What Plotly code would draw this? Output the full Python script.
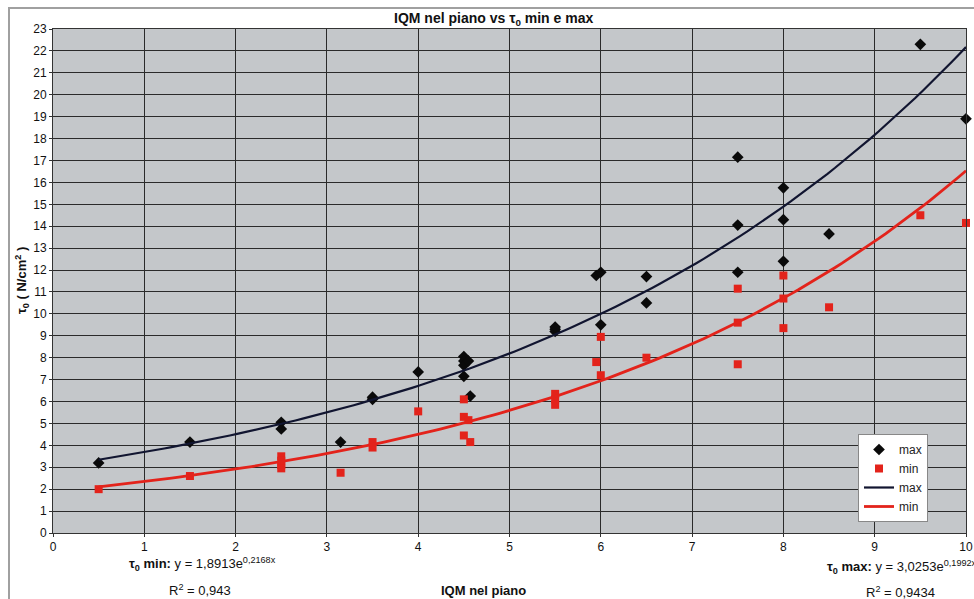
import numpy as np
import plotly.graph_objects as go

# ---- data ----
max_x = [0.5, 1.5, 2.5, 2.5, 3.15, 3.5, 3.5, 4.0, 4.5, 4.5, 4.5, 4.55, 4.5, 4.57,
         5.5, 5.5, 5.5, 5.95, 6.0, 6.0, 6.5, 6.5, 7.5, 7.5, 7.5, 8.0, 8.0, 8.0, 8.5, 9.5, 10.0]
max_y = [3.2, 4.15, 4.75, 5.05, 4.15, 6.1, 6.2, 7.35, 8.05, 7.85, 7.65, 7.85, 7.15, 6.25,
         9.2, 9.3, 9.4, 11.75, 11.9, 9.5, 11.7, 10.5, 17.15, 14.05, 11.9, 15.75, 14.3, 12.4, 13.65, 22.3, 18.9]

min_x = [0.5, 1.5, 2.5, 2.5, 2.5, 2.5, 3.15, 3.5, 3.5, 4.0, 4.5, 4.5, 4.55, 4.5, 4.57,
         5.5, 5.5, 5.5, 5.95, 6.0, 6.0, 6.5, 7.5, 7.5, 7.5, 8.0, 8.0, 8.0, 8.5, 9.5, 10.0]
min_y = [2.0, 2.6, 3.5, 3.3, 3.1, 2.95, 2.75, 4.15, 3.9, 5.55, 6.1, 5.3, 5.15, 4.45, 4.15,
         6.35, 6.1, 5.85, 7.8, 8.95, 7.2, 8.0, 11.15, 9.6, 7.7, 11.75, 10.7, 9.35, 10.3, 14.5, 14.15]

# exponential trendlines as printed on the chart
min_a, min_b = 1.8913, 0.2168
max_a, max_b = 3.0253, 0.1992
trend_x = np.linspace(0.5, 10, 120)

x_ticks = list(range(0, 11))
y_ticks = list(range(0, 24))

FONT = "Liberation Sans, Arial, sans-serif"

fig = go.Figure()
fig.add_trace(go.Scatter(x=max_x, y=max_y, mode="markers", name="max", cliponaxis=False,
                         marker=dict(symbol="diamond", size=9, color="#0a0a0a")))
fig.add_trace(go.Scatter(x=min_x, y=min_y, mode="markers", name="min", cliponaxis=False,
                         marker=dict(symbol="square", size=8, color="#e3231b")))
fig.add_trace(go.Scatter(x=trend_x, y=max_a * np.exp(max_b * trend_x), mode="lines", name="max",
                         line=dict(color="#111530", width=2.2)))
fig.add_trace(go.Scatter(x=trend_x, y=min_a * np.exp(min_b * trend_x), mode="lines", name="min",
                         line=dict(color="#e3231b", width=2.8)))

# body margin is removed in the page (post_script), so figure px == page px
W, H = 974, 599
L, R, T, B = 53, 966, 29, 533


def px(xp):  # page pixel x -> paper
    return (xp - L) / (R - L)


def py(yp):  # page pixel y -> paper
    return (B - yp) / (B - T)


annotations = [
    dict(x=px(493), y=py(19), text="<b>IQM nel piano vs τ<sub>0</sub> min e max</b>",
         font=dict(size=14, color="#111")),
    dict(x=px(483), y=py(590), text="<b>IQM nel piano</b>", font=dict(size=13, color="#111")),
    dict(x=px(22), y=py(281), text="<b>τ<sub>0</sub> ( N/cm<sup>2</sup> )</b>", textangle=-90,
         font=dict(size=13, color="#111")),
    dict(x=px(127), y=py(564), xanchor="left",
         text="<b>τ<sub>0</sub> min:</b> y = 1,8913e<sup>0,2168x</sup>", font=dict(size=13, color="#111")),
    dict(x=px(200), y=py(590), text="R<sup>2</sup> = 0,943", font=dict(size=13, color="#111")),
    dict(x=px(825), y=py(567), xanchor="left",
         text="<b>τ<sub>0</sub> max:</b> y = 3,0253e<sup>0,1992x</sup>", font=dict(size=13, color="#111")),
    dict(x=px(900), y=py(592), text="R<sup>2</sup> = 0,9434", font=dict(size=13, color="#111")),
]
for a in annotations:
    a.update(xref="paper", yref="paper", showarrow=False)
    a.setdefault("xanchor", "center")
    a["yanchor"] = "middle"

shapes = [
    dict(type="line", xref="paper", yref="paper", x0=px(8), x1=px(974), y0=py(8), y1=py(8),
         line=dict(color="#a0a0a0", width=2)),
    dict(type="line", xref="paper", yref="paper", x0=px(9), x1=px(9), y0=py(8), y1=py(599),
         line=dict(color="#a0a0a0", width=2)),
]

fig.update_layout(
    width=W, height=H,
    margin=dict(l=L, r=W - R, t=T, b=H - B, autoexpand=False),
    paper_bgcolor="white",
    plot_bgcolor="#c4c7ca",
    font=dict(family=FONT, size=12, color="#111"),
    showlegend=True,
    legend=dict(x=px(858), y=py(434), xanchor="left", yanchor="top",
                bgcolor="white", bordercolor="#888", borderwidth=1,
                font=dict(size=12, color="#222"), itemwidth=30, tracegroupgap=0),
    annotations=annotations,
    shapes=shapes,
)
fig.update_xaxes(range=[0, 10], tickvals=x_ticks, ticktext=[str(v) for v in x_ticks],
                 showgrid=True, gridcolor="#2a2a2a", gridwidth=1, zeroline=False,
                 showline=True, linecolor="#333", mirror=True, ticks="outside", ticklen=3,
                 tickcolor="#333", tickfont=dict(size=12), ticklabeloverflow="allow")
fig.update_yaxes(range=[0, 23], tickvals=y_ticks, ticktext=[str(v) for v in y_ticks],
                 showgrid=True, gridcolor="#2a2a2a", gridwidth=1, zeroline=False,
                 showline=True, linecolor="#333", mirror=True, ticks="outside", ticklen=3,
                 tickcolor="#333", tickfont=dict(size=12))

fig.write_html("out.html", config={"displayModeBar": False},
               post_script="document.body.style.margin='0';document.body.style.overflow='hidden';")
